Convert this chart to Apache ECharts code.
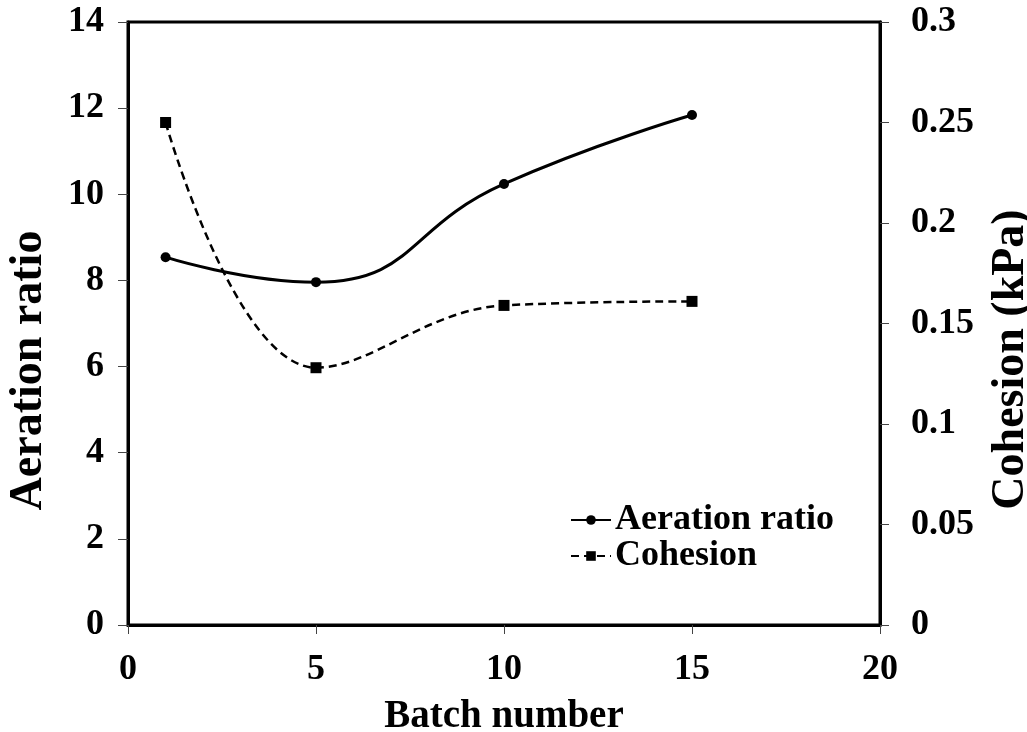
<!DOCTYPE html>
<html><head><meta charset="utf-8">
<script src="https://cdn.jsdelivr.net/npm/echarts@6/dist/echarts.min.js"></script>
<style>html,body{margin:0;padding:0;background:#fff}#c{width:1027px;height:732px}</style>
</head><body><div id="c"></div>
<script>
const batches = [1, 5, 10, 15];
const aeration = [8.54, 7.96, 10.24, 11.84];
const cohesion = [0.250, 0.128, 0.159, 0.161];
const xTicks = [0, 5, 10, 15, 20];
const leftTicks = [0, 2, 4, 6, 8, 10, 12, 14];
const rightTicks = [0, 0.05, 0.1, 0.15, 0.2, 0.25, 0.3];

const FONT = 'Liberation Serif';
const txt = {fontFamily: FONT, fontWeight: 'bold', fontSize: 36, color: '#000'};
const chart = echarts.init(document.getElementById('c'));
chart.setOption({
  animation: false,
  grid: {left: 128, right: 147, top: 22, bottom: 107, outerBoundsMode: 'none', containLabel: false,
         show: true, borderColor: '#000', borderWidth: 3},
  legend: {
    left: 570, top: 502, padding: 0, orient: 'vertical', itemWidth: 40, itemHeight: 12, itemGap: 0,
    textStyle: Object.assign({}, txt, {fontSize: 36, lineHeight: 32, padding: [0,0,0,-1]}),
    data: ['Aeration ratio', 'Cohesion']
  },
  xAxis: {
    type: 'value', min: 0, max: 20, interval: 5,
    name: 'Batch number', nameLocation: 'middle', nameGap: 72,
    nameTextStyle: Object.assign({}, txt, {fontSize: 39}),
    axisLine: {show: true, lineStyle: {color: '#000', width: 3}},
    axisTick: {show: true, length: 9, lineStyle: {color: '#444', width: 1}},
    axisLabel: Object.assign({}, txt, {margin: 27, formatter: v => xTicks.includes(v) ? String(v) : ''}),
    splitLine: {show: false}
  },
  yAxis: [{
    type: 'value', min: 0, max: 14, interval: 2, position: 'left',
    name: 'Aeration ratio', nameLocation: 'middle', nameGap: 76, nameRotate: 90,
    nameTextStyle: Object.assign({}, txt, {fontSize: 46, padding: [0, 94, 0, 0]}),
    axisLine: {show: true, lineStyle: {color: '#000', width: 3}},
    axisTick: {show: true, length: 10, lineStyle: {color: '#444', width: 1}},
    axisLabel: Object.assign({}, txt, {margin: 24, formatter: v => leftTicks.includes(v) ? String(v) : ''}),
    splitLine: {show: false}
  }, {
    type: 'value', min: 0, max: 0.3, interval: 0.05, position: 'right',
    name: 'Cohesion (kPa)', nameLocation: 'middle', nameGap: 108, nameRotate: 90,
    nameTextStyle: Object.assign({}, txt, {fontSize: 46, padding: [0, 72, 0, 0]}),
    axisLine: {show: true, lineStyle: {color: '#000', width: 3}},
    axisTick: {show: true, length: 9, lineStyle: {color: '#444', width: 1}},
    axisLabel: Object.assign({}, txt, {margin: 31, formatter: v => String(+v.toFixed(2))}),
    splitLine: {show: false}
  }],
  series: [{
    name: 'Aeration ratio', type: 'line', yAxisIndex: 0, smooth: 0.5,
    data: batches.map((b, i) => [b, aeration[i]]),
    symbol: 'circle', symbolSize: 10,
    lineStyle: {color: '#000', width: 3},
    itemStyle: {color: '#000'}
  }, {
    name: 'Cohesion', type: 'line', yAxisIndex: 1, smooth: 0.4,
    data: batches.map((b, i) => [b, cohesion[i]]),
    symbol: 'rect', symbolSize: 11,
    lineStyle: {color: '#000', width: 2.5, type: [8, 5]},
    itemStyle: {color: '#000'}
  }]
});
</script></body></html>
